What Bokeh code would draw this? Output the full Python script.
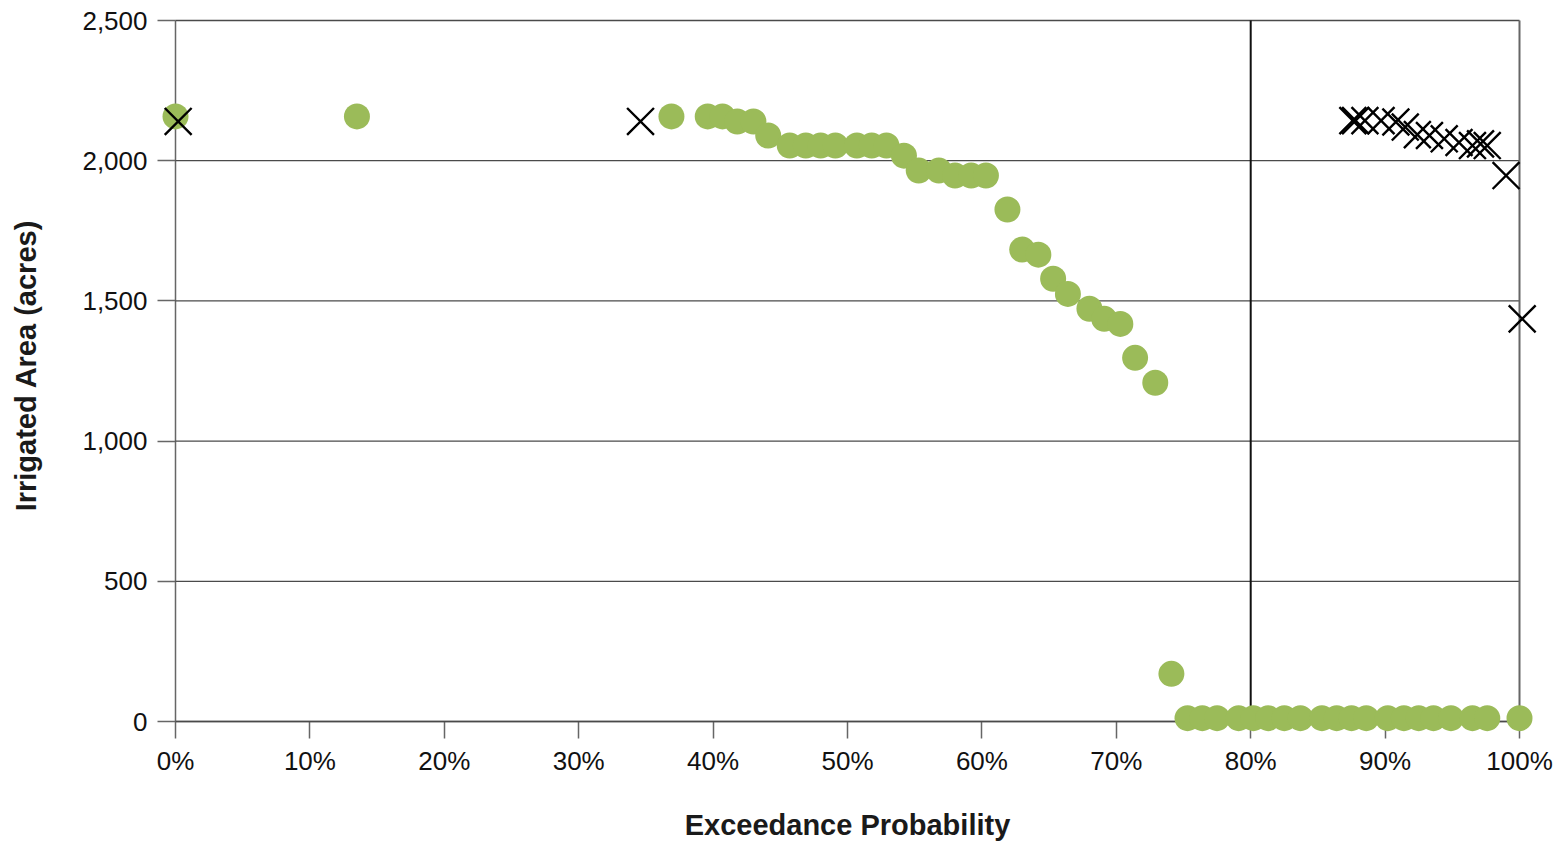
import math
from bokeh.plotting import figure
from bokeh.models import Range1d, FixedTicker, NumeralTickFormatter, Label
from bokeh.embed import file_html
from bokeh.resources import INLINE

# ---------------- data ----------------
green_prob = [0.0, 13.5, 36.9, 39.6, 40.7, 41.8, 43.0, 44.1, 45.7, 46.9, 48.0, 49.1,
              50.7, 51.8, 52.9, 54.2, 55.3, 56.8, 58.0, 59.2, 60.3, 61.9, 63.0, 64.2,
              65.3, 66.4, 68.0, 69.1, 70.3, 71.4, 72.9, 74.1,
              75.3, 76.4, 77.5, 79.1, 80.2, 81.3, 82.5, 83.7, 85.3, 86.4, 87.5, 88.6,
              90.2, 91.4, 92.5, 93.6, 94.9, 96.5, 97.6, 100.0]
green_area = [2158, 2158, 2158, 2158, 2158, 2140, 2140, 2090, 2054, 2054, 2054, 2054,
              2054, 2054, 2054, 2018, 1965, 1965, 1947, 1947, 1947, 1826, 1683, 1665,
              1579, 1525, 1472, 1436, 1418, 1297, 1208, 170,
              12, 12, 12, 12, 12, 12, 12, 12, 12, 12, 12, 12,
              12, 12, 12, 12, 12, 12, 12, 12]

cross_prob = [0.2, 34.6, 87.6, 87.8, 88.5, 89.7, 90.8, 91.5, 92.4, 93.3, 94.4, 95.5,
              96.5, 97.1, 97.6, 99.0, 100.2]
cross_area = [2140, 2140, 2143, 2143, 2143, 2143, 2138, 2120, 2093, 2090, 2078, 2065,
              2054, 2060, 2054, 1947, 1436]

x_ticks = [0.0, 0.1, 0.2, 0.3, 0.4, 0.5, 0.6, 0.7, 0.8, 0.9, 1.0]
y_ticks = [0, 500, 1000, 1500, 2000, 2500]
threshold_prob = 0.8
x_title = "Exceedance Probability"
y_title = "Irrigated Area (acres)"

# ---------------- layout ----------------
W, H = 1564, 842
x0_px, x1_px = 175, 1519          # canvas px of 0% and 100%
y0_px, y1_px = 721, 20            # canvas px of 0 and 2500
sx = (x1_px - x0_px) / (x_ticks[-1] - x_ticks[0])
sy = (y0_px - y1_px) / (y_ticks[-1] - y_ticks[0])

# frame covers the whole canvas so nothing is clipped
x_start = -x0_px / sx
x_end = x_ticks[-1] + (W - x1_px) / sx
y_start = -(H - y0_px) / sy
y_end = y_ticks[-1] + y1_px / sy

p = figure(width=W, height=H, output_backend="svg", toolbar_location=None,
           x_range=Range1d(x_start, x_end), y_range=Range1d(y_start, y_end),
           min_border_left=0, min_border_right=0,
           min_border_top=0, min_border_bottom=0)
p.outline_line_color = None
p.xgrid.visible = False
p.ygrid.visible = False
p.background_fill_color = "white"
p.border_fill_color = "white"

FONT = "Liberation Sans"
AX = "#666666"

# gridlines
n = len(y_ticks)
p.segment(x0=[x_ticks[0]] * n, x1=[x_ticks[-1]] * n, y0=y_ticks, y1=y_ticks,
          line_color="#4a4a4a", line_width=1.3)
# right border
p.segment(x0=[x_ticks[-1]], x1=[x_ticks[-1]], y0=[y_ticks[0]], y1=[y_ticks[-1]],
          line_color=AX, line_width=2)
# threshold line
p.segment(x0=[threshold_prob], x1=[threshold_prob], y0=[y_ticks[0]], y1=[y_ticks[-1]],
          line_color="#111111", line_width=2)

# axes (drawn inside the frame at the data origin)
xa = p.xaxis[0]
ya = p.yaxis[0]
xa.fixed_location = 0
ya.fixed_location = 0
xa.bounds = (x_ticks[0], x_ticks[-1])
ya.bounds = (y_ticks[0], y_ticks[-1])
xa.ticker = FixedTicker(ticks=x_ticks)
ya.ticker = FixedTicker(ticks=y_ticks)
xa.formatter = NumeralTickFormatter(format="0%")
ya.formatter = NumeralTickFormatter(format="0,0")
for ax, tout in ((xa, 17), (ya, 18)):
    ax.level = "underlay"
    ax.axis_line_color = AX
    ax.axis_line_width = 1.5
    ax.major_tick_line_color = AX
    ax.major_tick_line_width = 1.5
    ax.major_tick_in = 0
    ax.major_tick_out = tout
    ax.minor_tick_line_color = None
    ax.major_label_text_font = FONT
    ax.major_label_text_font_size = "26px"
    ax.major_label_text_color = "#111111"
xa.major_label_standoff = 7
ya.major_label_standoff = 10

# points
gx = [v / 100 for v in green_prob]
cx = [v / 100 for v in cross_prob]
p.scatter(gx, green_area, marker="circle", size=26, fill_color="#9BBB59",
          line_color=None)
p.scatter(cx, cross_area, marker="x", size=38, line_color="black", line_width=2.4)

# axis titles
p.add_layout(Label(x=0.5, y=(y0_px - 824) / sy, text=x_title, text_align="center",
                   text_baseline="middle", text_font=FONT, text_font_style="bold",
                   text_font_size="29px", text_color="#1a1a1a"))
p.add_layout(Label(x=(25 - x0_px) / sx, y=(y0_px - 365) / sy, text=y_title,
                   angle=math.pi / 2, text_align="center", text_baseline="middle",
                   text_font=FONT, text_font_style="bold",
                   text_font_size="29px", text_color="#1a1a1a"))

open("out.html", "w").write(file_html(p, INLINE))
